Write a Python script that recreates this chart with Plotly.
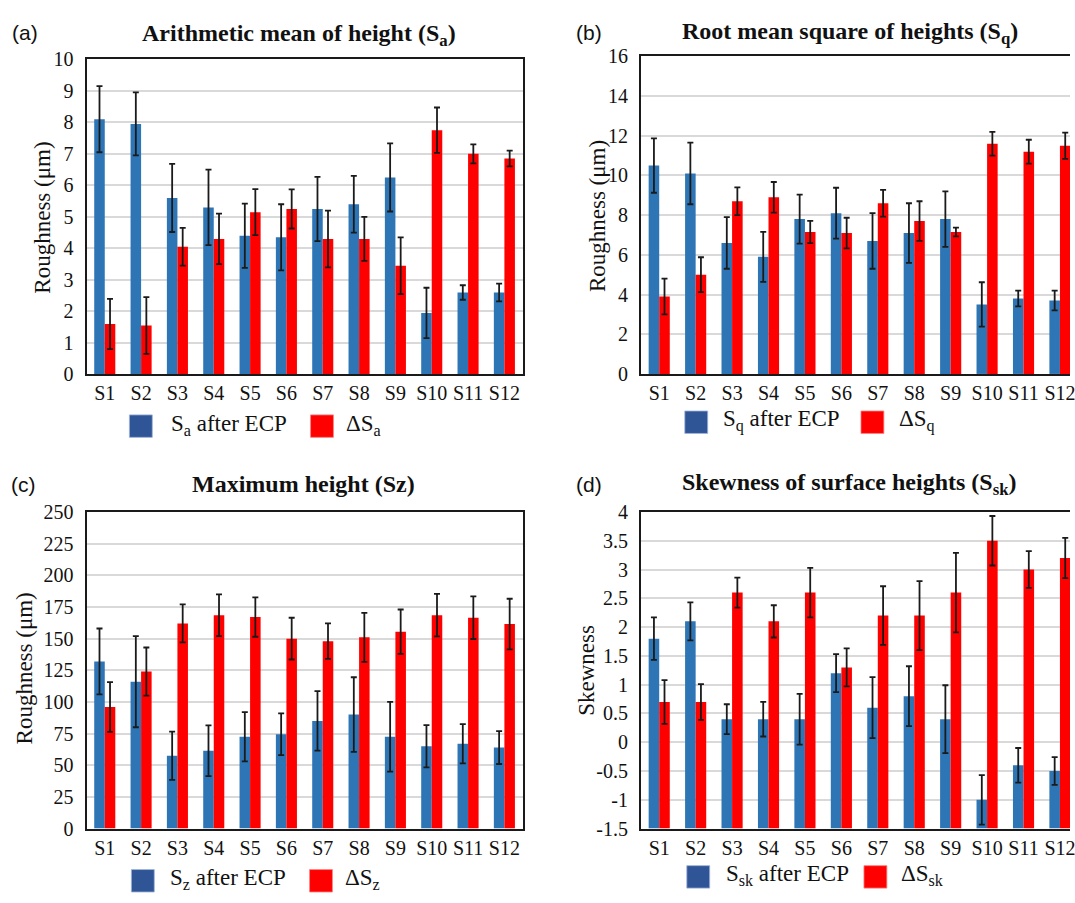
import plotly.graph_objects as go

W, H = 1075, 903

categories = ["S1", "S2", "S3", "S4", "S5", "S6", "S7", "S8", "S9", "S10", "S11", "S12"]

# (a) Sa
sa_after = [8.1, 7.95, 5.6, 5.3, 4.4, 4.35, 5.25, 5.4, 6.25, 1.95, 2.6, 2.6]
sa_after_err = [1.05, 1.0, 1.08, 1.2, 1.02, 1.05, 1.02, 0.9, 1.08, 0.8, 0.23, 0.28]
sa_delta = [1.6, 1.55, 4.05, 4.3, 5.15, 5.25, 4.3, 4.3, 3.45, 7.75, 7.0, 6.85]
sa_delta_err = [0.8, 0.9, 0.6, 0.8, 0.73, 0.62, 0.9, 0.7, 0.9, 0.72, 0.3, 0.25]

# (b) Sq
sq_after = [10.5, 10.1, 6.6, 5.9, 7.8, 8.1, 6.7, 7.1, 7.8, 3.5, 3.8, 3.7]
sq_after_err = [1.37, 1.55, 1.3, 1.26, 1.23, 1.28, 1.4, 1.5, 1.4, 1.12, 0.4, 0.5]
sq_delta = [3.9, 5.0, 8.7, 8.9, 7.15, 7.1, 8.6, 7.7, 7.15, 11.6, 11.2, 11.5]
sq_delta_err = [0.9, 0.88, 0.7, 0.77, 0.56, 0.77, 0.67, 1.0, 0.22, 0.6, 0.6, 0.66]

# (c) Sz
sz_after = [132, 116, 57.5, 61.5, 72.5, 74.5, 85, 90, 72.5, 65, 67, 64]
sz_after_err = [26, 36, 19, 20, 19.5, 16.5, 23.5, 29.5, 27.5, 16.7, 15.5, 13]
sz_delta = [96, 124, 162, 168.5, 167, 150, 148, 151, 155.5, 168.5, 166.5, 161.5]
sz_delta_err = [19.6, 19, 15, 16.5, 15.5, 16.5, 14, 19.4, 17.5, 16.8, 16.8, 20]

# (d) Ssk
ssk_after = [1.8, 2.1, 0.4, 0.4, 0.4, 1.2, 0.6, 0.8, 0.4, -1.0, -0.4, -0.5]
ssk_after_err = [0.37, 0.33, 0.26, 0.3, 0.44, 0.33, 0.53, 0.52, 0.59, 0.43, 0.3, 0.24]
ssk_delta = [0.7, 0.7, 2.6, 2.1, 2.6, 1.3, 2.2, 2.2, 2.6, 3.5, 3.0, 3.2]
ssk_delta_err = [0.38, 0.31, 0.26, 0.28, 0.43, 0.33, 0.51, 0.6, 0.69, 0.43, 0.32, 0.35]

ssk_ticks = [-1.5, -1, -0.5, 0, 0.5, 1, 1.5, 2, 2.5, 3, 3.5, 4]
ssk_ticktext = ["-1.5", "-1", "-0.5", "0", "0.5", "1", "1.5", "2", "2.5", "3", "3.5", "4"]

BLUE = "#2E75B6"
RED = "#FF0000"
LEG_BLUE = "#2F5597"
SERIF = "Liberation Serif"
SANS = "Liberation Sans"


def px(x):
    return x / W


def py(y):
    return 1 - y / H


panels = [
    dict(n="", left=87, right=525, top=49.5, bottom=372.5, xr=11.5, yr=[0, 10], dt=1,
         after=sa_after, ae=sa_after_err, delta=sa_delta, de=sa_delta_err, base=0, mirror=True),
    dict(n="2", left=644, right=1075, top=46.5, bottom=372, xr=-0.5 + (1075 - 644) / 36.6, yr=[0, 16], dt=2,
         after=sq_after, ae=sq_after_err, delta=sq_delta, de=sq_delta_err, base=0, mirror=False),
    dict(n="3", left=87, right=525, top=513.5, bottom=838, xr=11.5, yr=[0, 250], dt=25,
         after=sz_after, ae=sz_after_err, delta=sz_delta, de=sz_delta_err, base=0, mirror=True),
    dict(n="4", left=644, right=1075, top=513.5, bottom=838, xr=-0.5 + (1075 - 644) / 36.6, yr=[-1.5, 4], dt=0.5,
         after=ssk_after, ae=ssk_after_err, delta=ssk_delta, de=ssk_delta_err, base=-1.5, mirror=False),
]

fig = go.Figure()
layout = {}

for p in panels:
    n = p["n"]
    xa, ya = "x" + n, "y" + n
    base = p["base"]
    for vals, errs, col in ((p["after"], p["ae"], BLUE), (p["delta"], p["de"], RED)):
        fig.add_trace(go.Bar(
            x=categories, y=[v - base for v in vals], base=base,
            marker=dict(color=col, line=dict(width=0)),
            error_y=dict(type="data", array=errs, visible=True, color="#1a1a1a",
                         thickness=1.8, width=3),
            xaxis=xa, yaxis=ya, showlegend=False,
        ))
    layout["xaxis" + n] = dict(
        domain=[px(p["left"]), px(p["right"])], anchor=ya, type="category",
        range=[-0.5, p["xr"]], showline=True, linecolor="#1a1a1a", linewidth=2,
        mirror=True, showgrid=False, ticks="", ticklabelstandoff=0,
        tickfont=dict(family=SERIF, size=20, color="#111"),
    )
    yd = dict(
        domain=[py(p["bottom"]), py(p["top"])], anchor=xa,
        range=p["yr"], dtick=p["dt"], showline=True, linecolor="#1a1a1a", linewidth=2,
        mirror=p["mirror"], showgrid=True, gridcolor="#D9D9D9", gridwidth=1.5,
        zeroline=False, ticks="", ticklabelstandoff=7,
        tickfont=dict(family=SERIF, size=20, color="#111"),
    )
    if n == "4":
        yd.update(tickmode="array", tickvals=ssk_ticks, ticktext=ssk_ticktext)
    layout["yaxis" + n] = yd

annotations = []
shapes = []

titles = [
    ("<b>Arithmetic mean of height (S<sub>a</sub>)</b>", 300, 25),
    ("<b>Root mean square of heights (S<sub>q</sub>)</b>", 854, 23),
    ("<b>Maximum height (Sz)</b>", 305, 485),
    ("<b>Skewness of surface heights (S<sub>sk</sub>)</b>", 853, 485),
]
for t, x, y in titles:
    annotations.append(dict(text=t, x=px(x), y=py(y), xref="paper", yref="paper",
                            showarrow=False, xanchor="center", yanchor="middle",
                            font=dict(family=SERIF, size=24, color="#111")))

labels = [("(a)", 25, 22), ("(b)", 592, 22), ("(c)", 24, 485), ("(d)", 592, 485)]
for t, x, y in labels:
    annotations.append(dict(text=t, x=px(x), y=py(y), xref="paper", yref="paper",
                            showarrow=False, xanchor="center", yanchor="middle",
                            font=dict(family=SANS, size=21, color="#111")))

ytitles = [("Roughness (μm)", 43, 212), ("Roughness (μm)", 601, 210),
           ("Roughness (μm)", 25, 674), ("Skewness", 589, 676)]
for t, x, y in ytitles:
    annotations.append(dict(text=t, x=px(x), y=py(y), xref="paper", yref="paper",
                            showarrow=False, xanchor="center", yanchor="middle", textangle=-90,
                            font=dict(family=SERIF, size=23, color="#111")))

legends = [
    (130, 170, 312, 346, 414, "S<sub>a</sub> after ECP", "ΔS<sub>a</sub>"),
    (688, 724, 865, 901, 410, "S<sub>q</sub> after ECP", "ΔS<sub>q</sub>"),
    (132, 169, 311, 345, 880, "S<sub>z</sub> after ECP", "ΔS<sub>z</sub>"),
    (690, 727, 868, 903, 876, "S<sub>sk</sub> after ECP", "ΔS<sub>sk</sub>"),
]
for bl, t1, rl, t2, top, s1, s2 in legends:
    for left, col in ((bl, LEG_BLUE), (rl, RED)):
        shapes.append(dict(type="rect", xref="paper", yref="paper",
                           x0=px(left), x1=px(left + 23), y0=py(top + 23), y1=py(top),
                           fillcolor=col, line=dict(width=0.8, color="#9fb3d9" if col == LEG_BLUE else "#ff8080")))
    for tx, s in ((t1, s1), (t2, s2)):
        annotations.append(dict(text=s, x=px(tx), y=py(top + 10), xref="paper", yref="paper",
                                showarrow=False, xanchor="left", yanchor="middle",
                                font=dict(family=SERIF, size=23, color="#111")))

fig.update_layout(
    width=W, height=H, margin=dict(l=0, r=0, t=0, b=0),
    paper_bgcolor="white", plot_bgcolor="white",
    barmode="group", bargap=0.42, bargroupgap=0,
    annotations=annotations, shapes=shapes, showlegend=False,
    **layout,
)

fig.write_html("out.html")
